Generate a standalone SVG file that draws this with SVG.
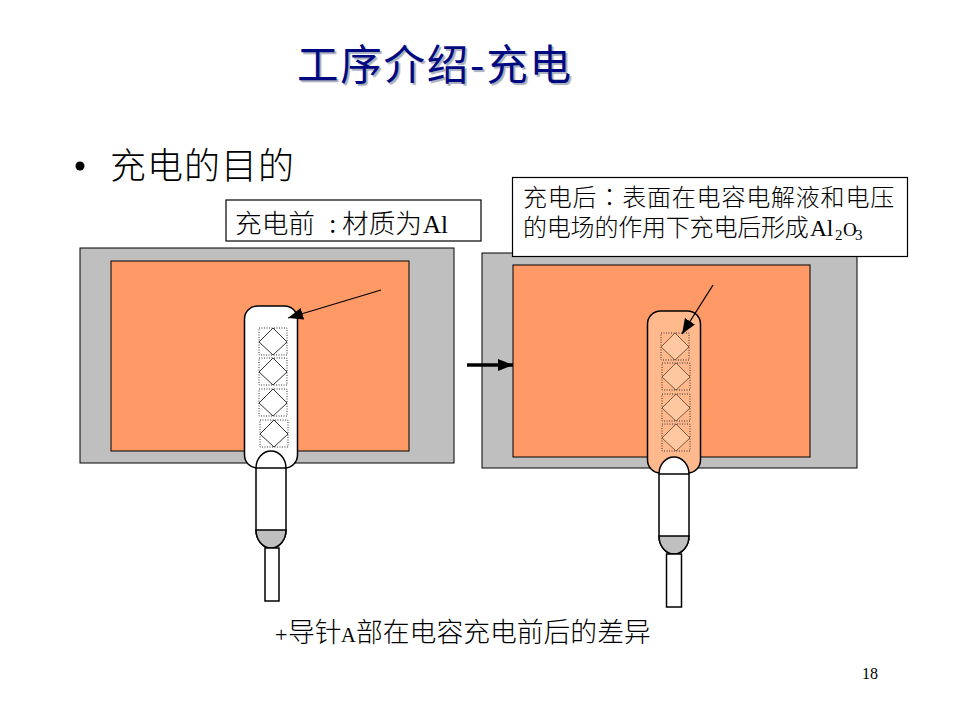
<svg xmlns="http://www.w3.org/2000/svg" width="960" height="720" viewBox="0 0 960 720">
<style>
text{font-family:"Noto Sans CJK SC","Liberation Serif",sans-serif;fill:#000;font-weight:300}
.lat{font-family:"Liberation Serif",serif;font-weight:400}
.ln{stroke:#000;stroke-width:1.3}
.gray{fill:#bfbfbf;stroke:#000;stroke-width:1}
.or{fill:#ff9966;stroke:#000;stroke-width:1}
.pill{stroke:#000;stroke-width:1.5}
.dot{fill:none;stroke:#333;stroke-width:1;stroke-dasharray:1 1.5}
.dia{fill:none;stroke:#333;stroke-width:1}
.diap{fill:#ffc8a0;stroke:#7a5a40;stroke-width:1}
.w{fill:#fff;stroke:#000;stroke-width:1.5}
.bx{fill:#fff;stroke:#000;stroke-width:1.2}
</style>
<defs>
<marker id="ah" markerUnits="userSpaceOnUse" markerWidth="16" markerHeight="13" refX="15" refY="6" orient="auto"><path d="M0 0L15 6L0 12z" fill="#000"/></marker>
<g id="cell"><rect class="dot" x="0" y="0" width="28" height="27"/><path class="dia" d="M14 0L28 14L14 27L0 14z"/></g>
<g id="cellp"><rect class="dot" x="0" y="0" width="28" height="27"/><path class="diap" d="M14 0L28 14L14 27L0 14z"/></g>
<g id="probe">
<path class="w" d="M0 17A15 17 0 0 1 30 17V79A15 18 0 0 1 0 79z"/>
<path d="M0 17H30" stroke="#000" stroke-width="1.5"/>
<path class="gray" style="stroke-width:1.5" d="M0 79H30A15 18 0 0 1 0 79z"/>
</g>
</defs>
<g id="title"><text x="297" y="80" font-size="41.500" textLength="274" style="fill:#000a80;font-weight:400;text-shadow:2px 2px 1px #a8aebd">工序介绍-充电</text></g>
<g id="bullet"><circle cx="80" cy="166" r="4.500" fill="#000"/><text x="110" y="179" font-size="36" textLength="184">充电的目的</text></g>

<g id="left-panel">
<rect class="gray" x="80" y="248" width="374" height="215"/>
<rect class="or" x="111" y="261" width="298" height="190"/>
<rect class="pill" x="244.500" y="306" width="53" height="162" rx="13" fill="#fff"/>
<use href="#cell" x="259" y="328"/><use href="#cell" x="259" y="358"/><use href="#cell" x="259" y="389"/><use href="#cell" x="260" y="420"/>
<use href="#probe" x="256" y="451"/>
<rect class="w" x="265" y="548" width="14" height="53"/>
</g>
<g id="right-panel">
<rect class="gray" x="482" y="253" width="375" height="215"/>
<rect class="or" x="513" y="265" width="297" height="192"/>
<rect class="pill" x="647.500" y="311" width="53" height="162" rx="13" fill="#ffb98c"/>
<use href="#cellp" x="661" y="333"/><use href="#cellp" x="662" y="363"/><use href="#cellp" x="662" y="394"/><use href="#cellp" x="662" y="424"/>
<use href="#probe" x="659" y="457"/>
<rect class="w" x="666.500" y="554" width="15" height="53"/>
</g>
<g id="label-before"><rect class="bx" x="226" y="200" width="255" height="41"/><text x="235" y="233" font-size="26.700">充电前 <tspan x="329" class="lat">:</tspan><tspan x="342">材质为</tspan><tspan x="423" class="lat" font-size="25">Al</tspan></text></g>
<g id="label-after"><rect class="bx" x="512.500" y="177.500" width="395" height="79"/>
<text x="523" y="206" font-size="24" letter-spacing=".8">充电后<tspan style="font-family:'Noto Sans CJK TC',sans-serif">：</tspan>表面在电容电解液和电压</text>
<text x="523" y="236" font-size="24" letter-spacing="-.2">的电场的作用下充电后形成<tspan x="810" font-size="23.500" class="lat">Al</tspan><tspan x="835" dy="4" font-size="15" class="lat">2</tspan><tspan x="843" dy="-4" font-size="19" class="lat">O</tspan><tspan x="855" dy="4" font-size="15" class="lat">3</tspan></text>
</g>
<g id="connectors">
<line class="ln" x1="381" y1="290" x2="288" y2="318" marker-end="url(#ah)"/>
<line class="ln" x1="713" y1="285" x2="682" y2="334" marker-end="url(#ah)"/>
<line stroke="#000" stroke-width="3.500" x1="467" y1="365" x2="513" y2="365" marker-end="url(#ah)"/>
</g>
<g id="caption"><text x="275" y="642" font-size="26.800"><tspan class="lat" font-size="22">+</tspan><tspan x="288">导针</tspan><tspan x="341" class="lat" font-size="20.500">A</tspan><tspan x="356">部在电容充电前后的差异</tspan></text></g>
<g id="page"><text x="862" y="679" font-size="16" class="lat">18</text></g>
</svg>
